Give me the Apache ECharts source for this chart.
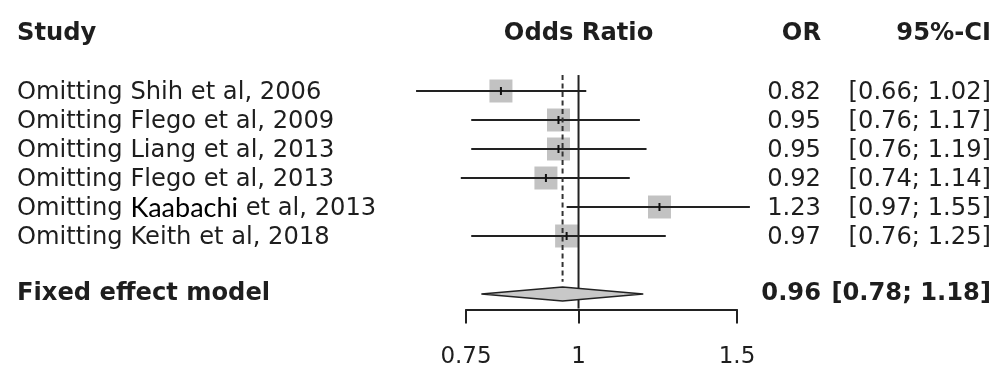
<!DOCTYPE html>
<html><head><meta charset="utf-8">
<script src="https://cdn.jsdelivr.net/npm/echarts@6/dist/echarts.min.js"></script>
<style>html,body{margin:0;padding:0;background:#fff}#c{width:1000px;height:370px}</style>
</head><body><div id="c"></div>
<script>
// ---- data ----
const studies = [
  'Omitting Shih et al, 2006',
  'Omitting Flego et al, 2009',
  'Omitting Liang et al, 2013',
  'Omitting Flego et al, 2013',
  'Omitting Kaabachi et al, 2013',
  'Omitting Keith et al, 2018'
];
const orValues = [0.82, 0.95, 0.95, 0.92, 1.23, 0.97];
const ciLower  = [0.66, 0.76, 0.76, 0.74, 0.97, 0.76];
const ciUpper  = [1.02, 1.17, 1.19, 1.14, 1.55, 1.25];
const pooledLabel = 'Fixed effect model';
const pooledOR = [0.96];
const pooledLower = [0.78];
const pooledUpper = [1.18];
const headers = ['Study', 'Odds Ratio', 'OR', '95%-CI'];
const axisTicks = [0.75, 1, 1.5];
const nullValue = [1];

// ---- layout ----
const FONT = '"DejaVu Sans", sans-serif';
const TXT = '#1e1e1e';
const LINE = '#222';
const X_NAME = 17, X_OR = 821, X_CI = 991;
const POOLED_ROW = studies.length + 2;

const fmt = v => v.toFixed(2);
const ciText = (lo, hi) => '[' + fmt(lo) + '; ' + fmt(hi) + ']';

function txt(x, y, text, align, bold) {
  return {
    type: 'text',
    style: {
      x: x, y: y, text: text, align: align, verticalAlign: 'middle',
      fontFamily: FONT, fontSize: 24.2, fontWeight: bold ? 'bold' : 'normal', fill: TXT
    }
  };
}

const studyData = studies.map((s, i) => [i + 1, orValues[i], ciLower[i], ciUpper[i]]);

function renderStudy(params, api) {
  const i = params.dataIndex;
  const row = api.value(0);
  const c = api.coord([api.value(1), row]);
  const l = api.coord([api.value(2), row]);
  const h = api.coord([api.value(3), row]);
  const s = 23;
  const name = studies[i];
  const nameEl = {
    type: 'text',
    style: {
      x: X_NAME, y: c[1] + 1.5,
      text: name.replace('Kaabachi', '{k|Kaabachi}'),
      align: 'left', verticalAlign: 'middle',
      fontFamily: FONT, fontSize: 24.2, fill: TXT,
      rich: { k: { fontFamily: 'Lato, "Liberation Sans", sans-serif', fontSize: 27, fill: '#000' } }
    }
  };
  return {
    type: 'group',
    children: [
      { type: 'rect', shape: { x: c[0] - s / 2, y: c[1] - s / 2, width: s, height: s }, style: { fill: '#c2c2c2' } },
      { type: 'line', shape: { x1: l[0], y1: l[1], x2: h[0], y2: h[1] }, style: { stroke: LINE, lineWidth: 2 } },
      { type: 'line', shape: { x1: c[0], y1: c[1] - 4, x2: c[0], y2: c[1] + 4 }, style: { stroke: '#111', lineWidth: 2 } },
      nameEl,
      txt(X_OR, c[1] + 1.5, fmt(api.value(1)), 'right', false),
      txt(X_CI, c[1] + 1.5, ciText(api.value(2), api.value(3)), 'right', false)
    ]
  };
}

function renderPooled(params, api) {
  const row = api.value(0);
  const c = api.coord([api.value(1), row]);
  const l = api.coord([api.value(2), row]);
  const h = api.coord([api.value(3), row]);
  const hh = 7;
  return {
    type: 'group',
    children: [
      { type: 'polygon', shape: { points: [[l[0], c[1]], [c[0], c[1] - hh], [h[0], c[1]], [c[0], c[1] + hh]] },
        style: { fill: '#c8c8c8', stroke: LINE, lineWidth: 1.6 } },
      txt(X_NAME, c[1], pooledLabel, 'left', true),
      txt(X_OR, c[1], fmt(api.value(1)), 'right', true),
      txt(X_CI, c[1], ciText(api.value(2), api.value(3)), 'right', true)
    ]
  };
}

function renderHeader(params, api) {
  const c = api.coord([nullValue[0], api.value(0)]);
  const y = c[1] + 0.5;
  return {
    type: 'group',
    children: [
      txt(X_NAME, y, headers[0], 'left', true),
      txt(c[0], y, headers[1], 'center', true),
      txt(X_OR, y, headers[2], 'right', true),
      txt(X_CI, y, headers[3], 'right', true)
    ]
  };
}

function renderRefLines(params, api) {
  const topRow = 0.45;
  const solidTop = api.coord([nullValue[0], topRow]);
  const solidBot = api.coord([nullValue[0], POOLED_ROW + 0.5]);
  const dTop = api.coord([pooledOR[0], topRow]);
  const dBot = api.coord([pooledOR[0], POOLED_ROW - 0.42]);
  return {
    type: 'group',
    children: [
      { type: 'line', shape: { x1: solidTop[0], y1: solidTop[1], x2: solidBot[0], y2: solidBot[1] }, style: { stroke: LINE, lineWidth: 2 } },
      { type: 'line', shape: { x1: dTop[0], y1: dTop[1], x2: dBot[0], y2: dBot[1] }, style: { stroke: '#333', lineWidth: 2, lineDash: [5, 3.5] } }
    ]
  };
}

const chart = echarts.init(document.getElementById('c'), null, { renderer: 'canvas' });
chart.setOption({
  animation: false,
  backgroundColor: '#fff',
  grid: [
    { left: 378.8, width: 383.5, top: 18.5, height: 304.5, outerBoundsMode: 'none', containLabel: false },
    { left: 466, width: 271, top: 308.5, height: 1, outerBoundsMode: 'none', containLabel: false }
  ],
  xAxis: [
    { type: 'log', gridIndex: 0, min: 0.6, max: 1.6, show: false },
    {
      type: 'log', gridIndex: 1, min: 0.75, max: 1.5, position: 'bottom',
      axisLine: { show: true, lineStyle: { color: LINE, width: 2 } },
      axisTick: { show: true, customValues: axisTicks, length: 14, lineStyle: { color: LINE, width: 2 } },
      axisLabel: { show: true, customValues: axisTicks, margin: 36, fontSize: 23, fontFamily: FONT, color: TXT,
        formatter: v => String(+v.toFixed(2)) },
      splitLine: { show: false }, minorTick: { show: false }
    }
  ],
  yAxis: [
    { type: 'value', gridIndex: 0, inverse: true, min: -1.5, max: 9, show: false },
    { type: 'value', gridIndex: 1, show: false, min: 0, max: 1 }
  ],
  series: [
    { type: 'custom', name: 'studies', xAxisIndex: 0, yAxisIndex: 0, renderItem: renderStudy, data: studyData,
      encode: { x: [1, 2, 3], y: 0 }, silent: true, z: 2 },
    { type: 'custom', name: 'ref', xAxisIndex: 0, yAxisIndex: 0, renderItem: renderRefLines, data: [[0, 1]], silent: true, z: 3 },
    { type: 'custom', name: 'pooled', xAxisIndex: 0, yAxisIndex: 0, renderItem: renderPooled,
      data: [[POOLED_ROW, pooledOR[0], pooledLower[0], pooledUpper[0]]], encode: { x: [1, 2, 3], y: 0 }, silent: true, z: 4 },
    { type: 'custom', name: 'header', xAxisIndex: 0, yAxisIndex: 0, renderItem: renderHeader, data: [[-1]], silent: true, z: 4 }
  ]
});
</script>
</body></html>
